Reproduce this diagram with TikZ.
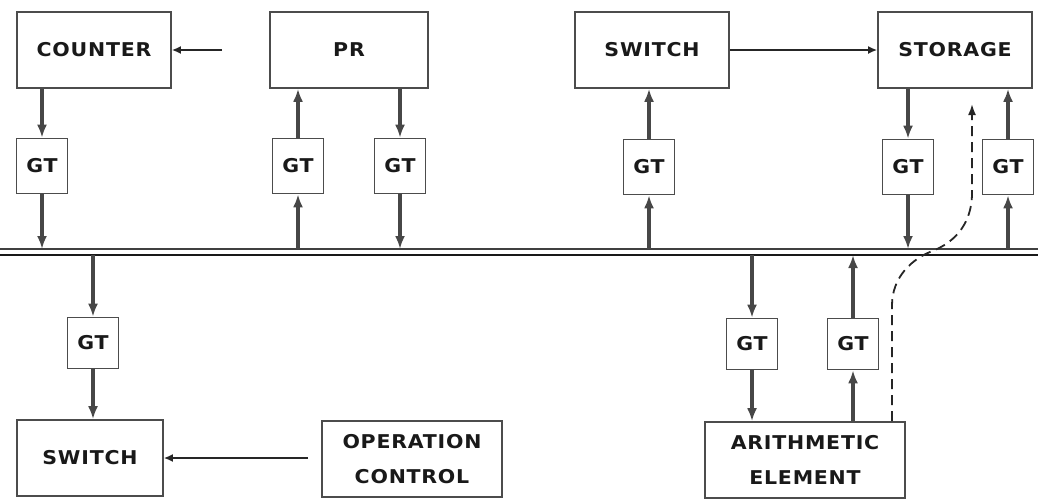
\documentclass[tikz,border=0pt]{standalone}
\usepackage{fontspec}
\usepackage{tikz}
\usetikzlibrary{arrows.meta,positioning,calc}
\newfontfamily\lettering[FakeStretch=1.08,LetterSpace=4]{DejaVu Sans}

\begin{document}
\begin{tikzpicture}[
                x=1pt, y=-1pt,
                every node/.append style={draw=black!70,line width=1.6pt,inner sep=0pt,
                    font=\lettering\bfseries\fontsize{19}{35}\selectfont,text=black!90,align=center},
                unit/.style={minimum width=154pt,minimum height=76pt},
                gate/.style={minimum width=51pt,minimum height=55pt},
                feed/.style={draw=black!72,line width=3.6pt,-{Latex[length=13pt,width=10pt]}},
                wire/.style={draw=black!85,line width=1.8pt,-{Latex[length=9pt,width=8pt]}}
            ]
                \useasboundingbox (0,0) rectangle (1038,499);
                \node (counter) [unit] at (94,50)   {COUNTER};
                \node (pr)      [unit,minimum width=158pt] at (349,50)  {PR};
                \node (swtop)   [unit] at (652,50)  {SWITCH};
                \node (storage) [unit] at (955,50)  {STORAGE};
                \node (gtA) [gate] at (42,166)  {GT};
                \node (gtB) [gate] at (298,166) {GT};
                \node (gtC) [gate] at (400,166) {GT};
                \node (gtD) [gate] at (649,167) {GT};
                \node (gtE) [gate] at (908,167) {GT};
                \node (gtF) [gate] at (1008,167) {GT};
                \node (gtG) [gate,minimum height=51pt] at (93,343)  {GT};
                \node (gtH) [gate,minimum height=51pt] at (752,344) {GT};
                \node (gtI) [gate,minimum height=51pt] at (853,344) {GT};
                \node (swlow)  [unit,minimum width=146pt] at (90,458)  {SWITCH};
                \node (opctl)  [unit,minimum width=180pt] at (412,459) {OPERATION\\CONTROL};
                \node (arith)  [unit,minimum width=200pt] at (805,460) {ARITHMETIC\\ELEMENT};
                \coordinate (busT) at (0,249);
                \coordinate (busB) at (0,255);
                \draw[black!75,line width=1.8pt] (busT) -- ++(1038,0);
                \draw[black!90,line width=2.6pt] (busB) -- ++(1038,0);
                \coordinate (prout) at (222,50);
                \coordinate (opout) at (308,458);
                \draw[wire] (prout) -- (counter.east);
                \draw[wire] (swtop.east) -- (storage.west);
                \draw[wire] (opout) -- (swlow.east);
                \draw[feed] (counter.south -| gtA) -- (gtA.north);
                \draw[feed] (gtA.south) -- (gtA |- busT);
                \draw[feed] (gtB |- busT) -- (gtB.south);
                \draw[feed] (gtB.north) -- (gtB |- pr.south);
                \draw[feed] (gtC |- pr.south) -- (gtC.north);
                \draw[feed] (gtC.south) -- (gtC |- busT);
                \draw[feed] (gtD |- busT) -- (gtD.south);
                \draw[feed] (gtD.north) -- (gtD |- swtop.south);
                \draw[feed] (gtE |- storage.south) -- (gtE.north);
                \draw[feed] (gtE.south) -- (gtE |- busT);
                \draw[feed] (gtF |- busT) -- (gtF.south);
                \draw[feed] (gtF.north) -- (gtF |- storage.south);
                \draw[feed] (gtG |- busB) -- (gtG.north);
                \draw[feed] (gtG.south) -- (gtG |- swlow.north);
                \draw[feed] (gtH |- busB) -- (gtH.north);
                \draw[feed] (gtH.south) -- (gtH |- arith.north);
                \draw[feed] (gtI |- arith.north) -- (gtI.south);
                \draw[feed] (gtI.north) -- (gtI |- busB);
                \coordinate (dashup) at (972,104);
                \draw[black!85,line width=1.8pt,dash pattern=on 10pt off 6pt,-{Latex[length=11pt,width=8pt]}]
                    ([xshift=87pt]arith.north) -- ++(0,-116)
                    .. controls ++(0,-28) and (912,258) .. (935,250)
                    .. controls (962,238) and (972,216) .. (972,193) -- (dashup);
            \end{tikzpicture}
\end{document}
